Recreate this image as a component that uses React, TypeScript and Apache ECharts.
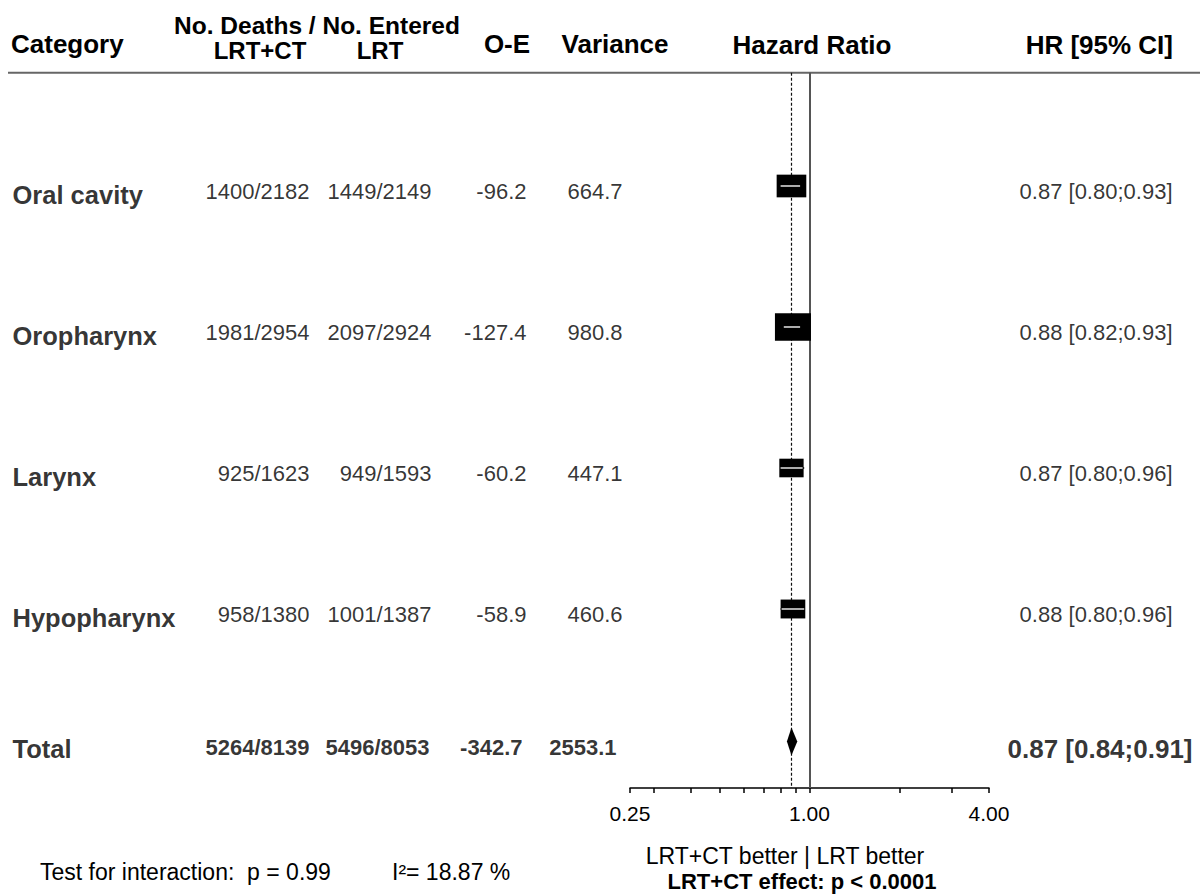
import React, { useEffect, useRef } from "react";
import * as echarts from "echarts";

// ---------- data ----------
const categories = ["Oral cavity", "Oropharynx", "Larynx", "Hypopharynx"];
const deathsLrtCt = ["1400/2182", "1981/2954", "925/1623", "958/1380"];
const deathsLrt = ["1449/2149", "2097/2924", "949/1593", "1001/1387"];
const oMinusE = [-96.2, -127.4, -60.2, -58.9];
const variances = [664.7, 980.8, 447.1, 460.6];
const hazardRatios = [0.87, 0.88, 0.87, 0.88];
const ciLower = [0.8, 0.82, 0.8, 0.8];
const ciUpper = [0.93, 0.93, 0.96, 0.96];

const totalLabel = "Total";
const totalDeathsLrtCt = "5264/8139";
const totalDeathsLrt = "5496/8053";
const totalOMinusE = -342.7;
const totalVariance = 2553.1;
const totalHR = 0.87;
const totalLower = 0.84;
const totalUpper = 0.91;

const rowPositions = [1, 2, 3, 4];
const totalPosition = 4.94;

const axisTickValues = [0.25, 0.3, 0.4, 0.5, 0.6, 0.7, 0.8, 0.9, 1, 2, 3, 4];
const axisLabelValues = [0.25, 1, 4];

const FONT = '"Liberation Sans", Arial, Helvetica, sans-serif';

const hrText = (h: number, l: number, u: number) =>
  `${h.toFixed(2)} [${l.toFixed(2)};${u.toFixed(2)}]`;

export default function App() {
  const ref = useRef<HTMLDivElement>(null);

  useEffect(() => {
    document.body.style.margin = "0";
    if (!ref.current) return;
    const chart = echarts.init(ref.current, undefined, { renderer: "svg" });

    const Y_MIN = 0.1965;
    const Y_MAX = 5.2695;
    const GRID_TOP = 72.7;
    const GRID_BOTTOM = 106;

    const textCol = (
      regX: number,
      totX: number,
      align: "left" | "right",
      texts: string[],
      totalText: string,
      size: number,
      weight: string,
      dy: number,
      totSize: number,
      totDy: number
    ) => ({
      type: "scatter",
      xAxisIndex: 1,
      yAxisIndex: 1,
      symbolSize: 1,
      silent: true,
      emphasis: { disabled: true },
      itemStyle: { color: "rgba(0,0,0,0)" },
      label: {
        show: true,
        position: align === "right" ? "left" : "right",
        distance: 0,
        color: "#000",
        fontFamily: FONT,
        formatter: (p: any) => p.data.txt,
      },
      data: [
        ...texts.map((t, i) => ({
          value: [regX, rowPositions[i]],
          txt: t,
          label: { fontSize: size, fontWeight: weight, offset: [0, dy], color: "#000" },
        })),
        {
          value: [totX, totalPosition],
          txt: totalText,
          label: { fontSize: totSize, fontWeight: "bold", offset: [0, totDy], color: "#000" },
        },
      ],
    });

    const boxData = hazardRatios.map((h, i) => [
      h,
      rowPositions[i],
      ciLower[i],
      ciUpper[i],
      variances[i],
    ]);

    const txt = (
      text: string,
      x: number,
      y: number,
      align: string,
      size: number,
      weight: string
    ) => ({
      type: "text",
      x,
      y,
      style: {
        text,
        fontSize: size,
        fontWeight: weight,
        fontFamily: FONT,
        fill: "#000",
        align,
        verticalAlign: "middle",
      },
    });

    const option: any = {
      animation: false,
      backgroundColor: "#fff",
      grid: [
        { left: 630, right: 211, top: GRID_TOP, bottom: GRID_BOTTOM },
        { left: 0, right: 0, top: GRID_TOP, bottom: GRID_BOTTOM },
      ],
      xAxis: [
        {
          type: "log",
          logBase: 2,
          min: 0.25,
          max: 4,
          gridIndex: 0,
          axisLine: { show: true, lineStyle: { color: "#000", width: 1.5 } },
          axisTick: {
            show: true,
            customValues: axisTickValues,
            length: 5,
            lineStyle: { color: "#000", width: 1.5 },
          },
          axisLabel: {
            show: true,
            customValues: axisLabelValues,
            formatter: (v: number) => Number(v).toFixed(2),
            fontSize: 21,
            fontFamily: FONT,
            color: "#000",
            margin: 15,
          },
          splitLine: { show: false },
          minorTick: { show: false },
        },
        { type: "value", min: 0, max: 1200, gridIndex: 1, show: false },
      ],
      yAxis: [
        {
          type: "value",
          inverse: true,
          min: Y_MIN,
          max: Y_MAX,
          gridIndex: 0,
          show: false,
        },
        {
          type: "value",
          inverse: true,
          min: Y_MIN,
          max: Y_MAX,
          gridIndex: 1,
          show: false,
        },
      ],
      graphic: [
        {
          type: "line",
          shape: { x1: 8, y1: 72.7, x2: 1200, y2: 72.7 },
          style: { stroke: "#666", lineWidth: 2 },
        },
        txt("Category", 11, 44, "left", 26, "bold"),
        txt("No. Deaths / No. Entered", 317, 25, "center", 24.5, "bold"),
        txt("LRT+CT", 260, 50, "center", 24, "bold"),
        txt("LRT", 380, 50, "center", 24, "bold"),
        txt("O-E", 507, 44, "center", 26, "bold"),
        txt("Variance", 615, 44, "center", 26, "bold"),
        txt("Hazard Ratio", 812, 45, "center", 26, "bold"),
        txt("HR [95% CI]", 1173, 45, "right", 26, "bold"),
        txt("LRT+CT better | LRT better", 785, 856, "center", 23, "normal"),
        txt("LRT+CT effect: p < 0.0001", 802, 881.5, "center", 22, "bold"),
        txt("Test for interaction:  p = 0.99", 40, 872, "left", 23, "normal"),
        txt("I²= 18.87 %", 392, 872, "left", 23, "normal"),
      ],
      series: [
        {
          type: "line",
          xAxisIndex: 0,
          yAxisIndex: 0,
          data: [],
          z: 1,
          silent: true,
          markLine: {
            silent: true,
            symbol: ["none", "none"],
            label: { show: false },
            data: [
              { xAxis: 1, lineStyle: { type: "solid", color: "#555", width: 2 } },
              {
                xAxis: totalHR,
                lineStyle: { type: [3, 2], color: "#111", width: 1.2 },
              },
            ],
          },
        },
        {
          type: "custom",
          xAxisIndex: 0,
          yAxisIndex: 0,
          z: 5,
          silent: true,
          data: boxData,
          renderItem: (params: any, api: any) => {
            const h = api.value(0);
            const row = api.value(1);
            const lo = api.value(2);
            const hi = api.value(3);
            const v = api.value(4);
            const c = api.coord([h, row]);
            const pl = api.coord([lo, row]);
            const ph = api.coord([hi, row]);
            const w = 1.15 * Math.sqrt(v);
            const ht = 0.88 * Math.sqrt(v);
            const left = c[0] - w / 2;
            const right = c[0] + w / 2;
            return {
              type: "group",
              children: [
                {
                  type: "line",
                  shape: { x1: pl[0], y1: c[1], x2: ph[0], y2: c[1] },
                  style: { stroke: "#000", lineWidth: 1.5 },
                },
                {
                  type: "rect",
                  shape: { x: left, y: c[1] - ht / 2, width: w, height: ht },
                  style: { fill: "#000" },
                },
                {
                  type: "line",
                  shape: {
                    x1: Math.max(pl[0], left + 1),
                    y1: c[1],
                    x2: Math.min(ph[0], right - 1),
                    y2: c[1],
                  },
                  style: { stroke: "#e6e6e6", lineWidth: 1.5 },
                },
              ],
            };
          },
        },
        {
          type: "custom",
          xAxisIndex: 0,
          yAxisIndex: 0,
          z: 5,
          silent: true,
          data: [[totalHR, totalPosition, totalLower, totalUpper]],
          renderItem: (params: any, api: any) => {
            const h = api.value(0);
            const row = api.value(1);
            const c = api.coord([h, row]);
            const pl = api.coord([api.value(2), row]);
            const ph = api.coord([api.value(3), row]);
            const half = 14;
            return {
              type: "polygon",
              shape: {
                points: [
                  [pl[0], c[1]],
                  [c[0], c[1] - half],
                  [ph[0], c[1]],
                  [c[0], c[1] + half],
                ],
              },
              style: { fill: "#000" },
            };
          },
        },
        textCol(12, 12, "left", categories, totalLabel, 25.5, "bold", 8.6, 25.5, 7),
        textCol(310, 310, "right", deathsLrtCt, totalDeathsLrtCt, 22, "normal", 5.5, 22, 5.5),
        textCol(432, 430, "right", deathsLrt, totalDeathsLrt, 22, "normal", 5.5, 22, 5.5),
        textCol(
          527,
          523,
          "right",
          oMinusE.map((v) => v.toFixed(1)),
          totalOMinusE.toFixed(1),
          22,
          "normal",
          5.5,
          22,
          5.5
        ),
        textCol(
          623,
          617,
          "right",
          variances.map((v) => v.toFixed(1)),
          totalVariance.toFixed(1),
          22,
          "normal",
          5.5,
          22,
          5.5
        ),
        textCol(
          1173,
          1193,
          "right",
          hazardRatios.map((h, i) => hrText(h, ciLower[i], ciUpper[i])),
          hrText(totalHR, totalLower, totalUpper),
          22,
          "normal",
          5.5,
          26,
          7
        ),
      ],
    };

    chart.setOption(option);
    return () => chart.dispose();
  }, []);

  return <div ref={ref} style={{ width: 1200, height: 894 }} />;
}
